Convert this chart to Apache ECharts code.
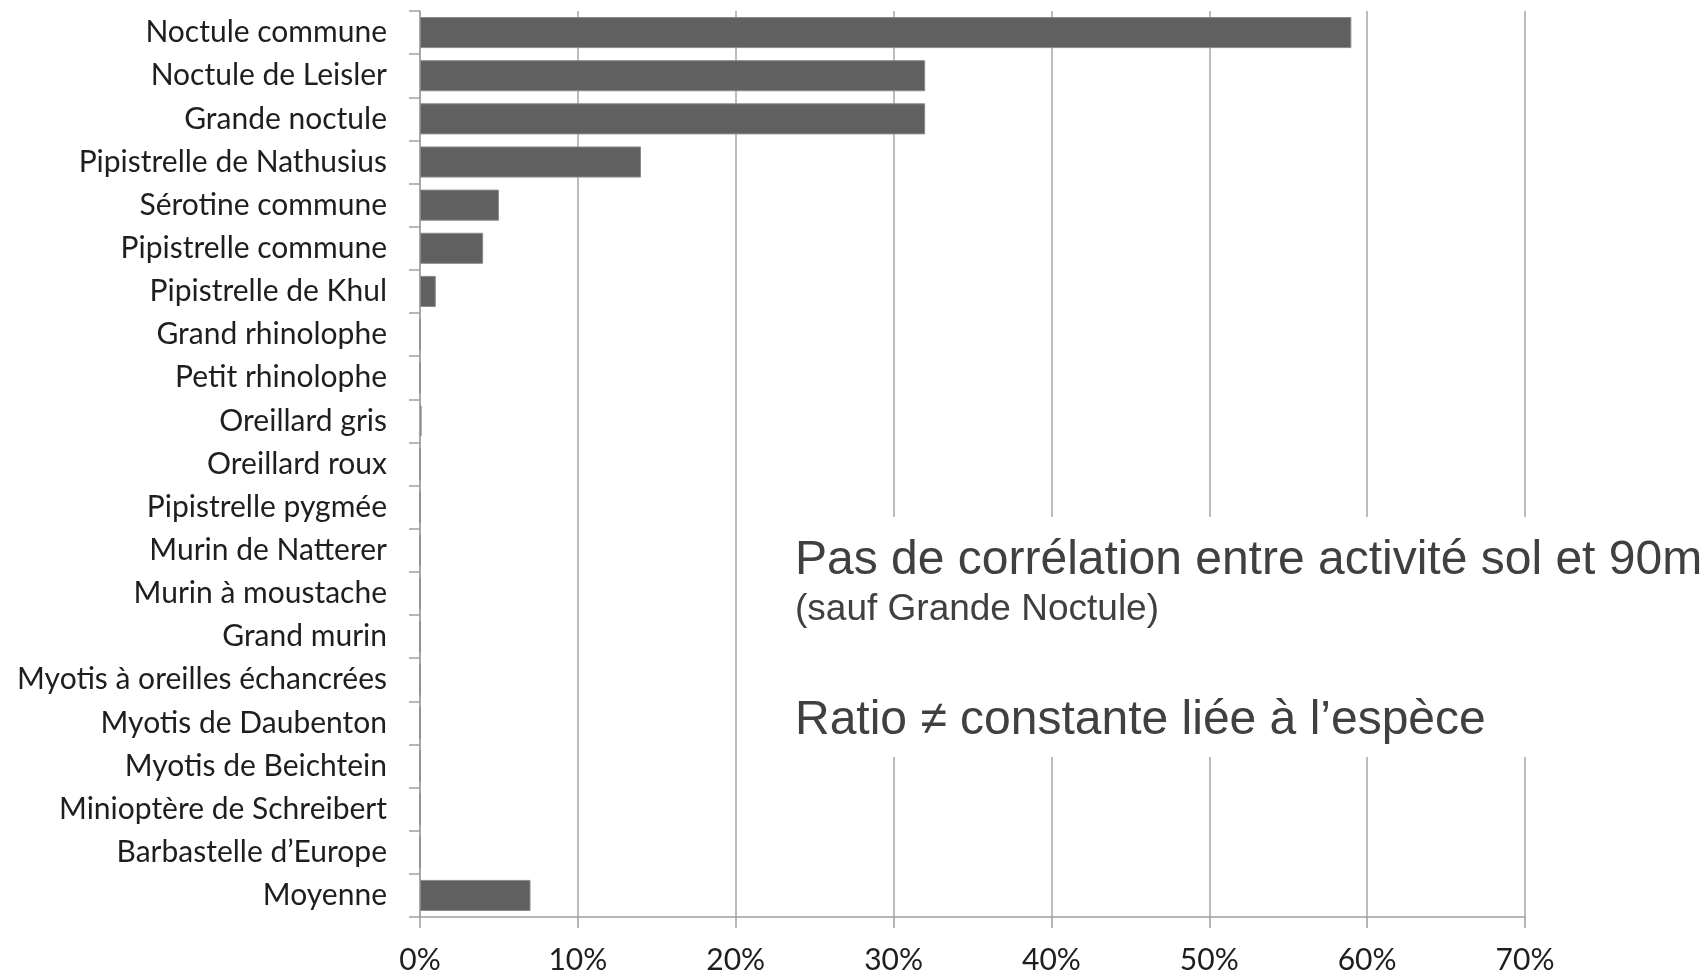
<!DOCTYPE html>
<html>
<head>
<meta charset="utf-8">
<script src="https://cdn.jsdelivr.net/npm/echarts@6/dist/echarts.min.js"></script>
<style>
    html, body { margin: 0; padding: 0; background: #fff; }
    #main { width: 1707px; height: 971px; }
</style>
</head>
<body>
<div id="main"></div>
<script>
var especes = [
    'Noctule commune', 'Noctule de Leisler', 'Grande noctule', 'Pipistrelle de Nathusius',
    'Sérotine commune', 'Pipistrelle commune', 'Pipistrelle de Khul', 'Grand rhinolophe',
    'Petit rhinolophe', 'Oreillard gris', 'Oreillard roux', 'Pipistrelle pygmée',
    'Murin de Natterer', 'Murin à moustache', 'Grand murin', 'Myotis à oreilles échancrées',
    'Myotis de Daubenton', 'Myotis de Beichtein', 'Minioptère de Schreibert',
    'Barbastelle d’Europe', 'Moyenne'
];
// ratio activité 90m / sol, en %
var ratios = [59, 32, 32, 14, 5, 4, 1, 0, 0, 0.1, 0, 0, 0, 0, 0, 0, 0, 0, 0, 0, 7];
var pctMin = 0;
var pctMax = 70;
var pctStep = 10;

var texteLignes = [
    'Pas de corrélation entre activité sol et 90m',
    '(sauf Grande Noctule)',
    'Ratio ≠ constante liée à l’espèce'
];

var Chart = echarts.init(document.getElementById('main'));
var option = {
    animation: false,
    backgroundColor: '#ffffff',
    grid: {left: 420, right: 182, top: 11, bottom: 54, outerBoundsMode: 'none'},
    xAxis: {
        type: 'value',
        min: pctMin,
        max: pctMax,
        interval: pctStep,
        axisLine: {show: true, lineStyle: {color: '#a0a0a0', width: 1.5}},
        axisTick: {show: true, length: 11, lineStyle: {color: '#a0a0a0', width: 1.5}},
        splitLine: {show: true, lineStyle: {color: '#a6a6a6', width: 1.5}},
        axisLabel: {
            formatter: '{value}%',
            margin: 28,
            color: '#1e1e1e',
            fontFamily: 'Lato',
            fontSize: 30
        }
    },
    yAxis: {
        type: 'category',
        data: especes,
        inverse: true,
        axisLine: {show: true, lineStyle: {color: '#a0a0a0', width: 1.5}},
        axisTick: {show: true, length: 11, alignWithLabel: false, lineStyle: {color: '#a0a0a0', width: 1.5}},
        axisLabel: {
            margin: 33,
            color: '#1e1e1e',
            fontFamily: 'Lato',
            fontSize: 30
        }
    },
    series: [{
        type: 'bar',
        data: ratios,
        barCategoryGap: '28%',
        itemStyle: {color: '#606060', borderColor: '#8a8a8a', borderWidth: 1}
    }],
    graphic: [
        {
            type: 'rect', z: 100,
            shape: {x: 790, y: 517, width: 917, height: 240},
            style: {fill: '#ffffff'}
        },
        {
            type: 'text', z: 101, x: 795, y: 561,
            style: {text: texteLignes[0], fill: '#404040', font: '48px "Liberation Sans", Arial', verticalAlign: 'middle'}
        },
        {
            type: 'text', z: 101, x: 795, y: 610,
            style: {text: texteLignes[1], fill: '#404040', font: '37px "Liberation Sans", Arial', verticalAlign: 'middle'}
        },
        {
            type: 'text', z: 101, x: 795, y: 721,
            style: {text: texteLignes[2], fill: '#404040', font: '48px "Liberation Sans", Arial', verticalAlign: 'middle'}
        }
    ]
};
Chart.setOption(option);
</script>
</body>
</html>
